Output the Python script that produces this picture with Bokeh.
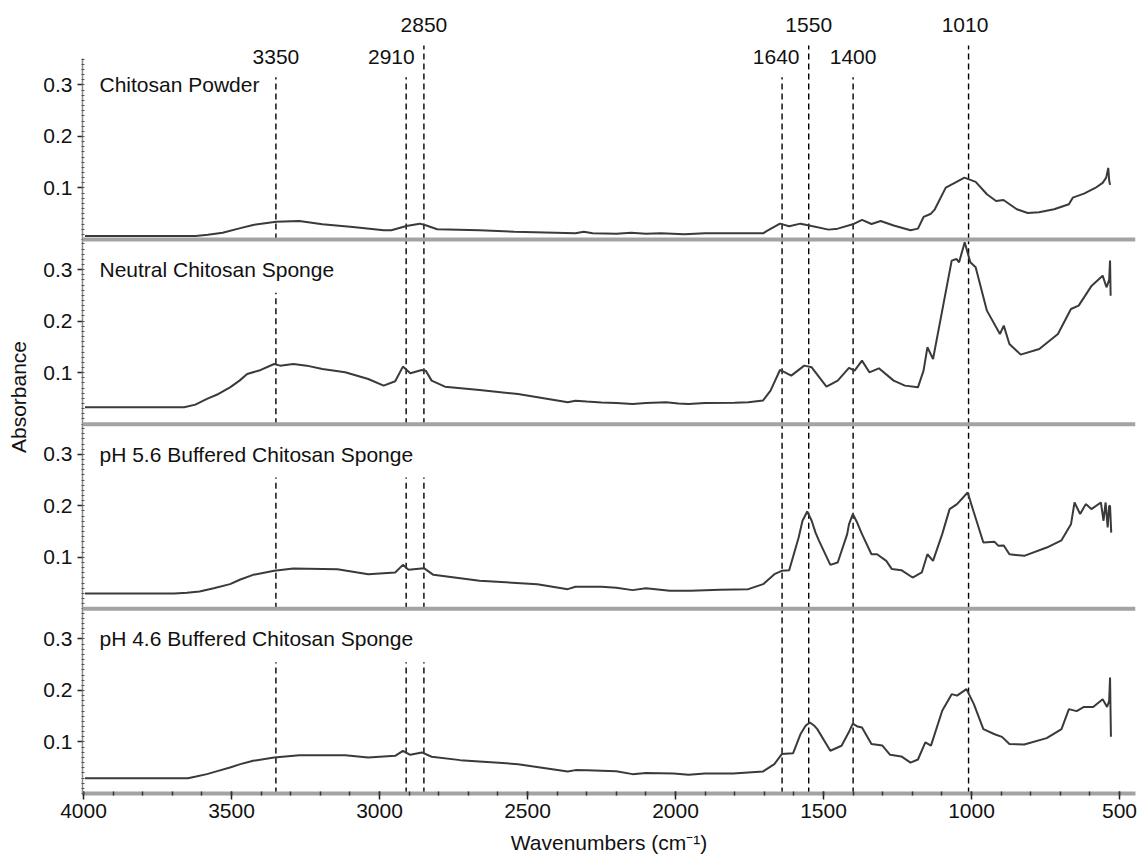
from bokeh.plotting import figure
from bokeh.models import Range1d, FixedTicker, CustomJSTickFormatter, Span
from bokeh.embed import file_html
from bokeh.resources import INLINE
from bokeh.core.properties import value

# ---------------- data ----------------
# Chitosan Powder
wn_powder = [3995, 3621, 3580, 3530, 3470, 3427, 3349, 3271, 3193, 3090, 2986, 2960, 2909, 2864, 2844,
             2805, 2662, 2545, 2338, 2310, 2280, 2200, 2150, 2100, 2050, 1970, 1900, 1800, 1704,
             1691, 1647, 1616, 1578, 1540, 1483, 1452, 1401, 1370, 1338, 1307, 1263, 1206, 1181,
             1162, 1137, 1124, 1087, 1055, 1024, 986, 948, 917, 892, 847, 810, 772, 721, 671, 658,
             620, 582, 557, 545, 538, 535, 532]
abs_powder = [0.0068, 0.0068, 0.009, 0.013, 0.022, 0.0282, 0.0346, 0.0359, 0.0295, 0.0243, 0.0178, 0.0178,
              0.0262, 0.0307, 0.0275, 0.0198, 0.0178, 0.0152, 0.012, 0.015, 0.012, 0.011, 0.013,
              0.011, 0.012, 0.010, 0.012, 0.012, 0.012, 0.0165, 0.0307, 0.0255, 0.0307, 0.026,
              0.0191, 0.021, 0.0294, 0.0379, 0.030, 0.0359, 0.027, 0.0178, 0.021, 0.0437, 0.050,
              0.0586, 0.1006, 0.1103, 0.1201, 0.1117, 0.0877, 0.0748, 0.0767, 0.0586, 0.0515,
              0.0528, 0.0586, 0.0683, 0.0812, 0.089, 0.100, 0.110, 0.120, 0.139, 0.115, 0.106]

# Neutral Chitosan Sponge
wn_neutral = [3995, 3660, 3622, 3583, 3544, 3505, 3473, 3447, 3401, 3356, 3336, 3291, 3246, 3193, 3116,
              3038, 2986, 2947, 2921, 2896, 2857, 2844, 2824, 2779, 2662, 2532, 2364, 2338, 2300, 2250,
              2200, 2145, 2100, 2032, 1990, 1956, 1900, 1800, 1754, 1704, 1679, 1647, 1609, 1565, 1540,
              1490, 1452, 1414, 1395, 1370, 1345, 1313, 1263, 1225, 1181, 1162, 1149, 1130, 1099,
              1067, 1051, 1042, 1023, 1004, 986, 948, 904, 891, 872, 834, 771, 708, 664, 638, 594,
              557, 544, 535, 532, 530]
abs_neutral = [0.0327, 0.0327, 0.0379, 0.0489, 0.0586, 0.0715, 0.0845, 0.0974, 0.1052, 0.1168, 0.1136,
               0.1168, 0.1136, 0.1071, 0.1006, 0.0877, 0.0748, 0.0832, 0.1117, 0.0987, 0.1052, 0.1039,
               0.0845, 0.0728, 0.0663, 0.0586, 0.0424, 0.0456, 0.044, 0.042, 0.041, 0.0392, 0.041,
               0.0424, 0.040, 0.0392, 0.041, 0.0415, 0.0424, 0.046, 0.065, 0.1052, 0.0942, 0.1136,
               0.1104, 0.0728, 0.0845, 0.1091, 0.1039, 0.1233, 0.1006, 0.1084, 0.0845, 0.0748, 0.0715,
               0.1039, 0.1492, 0.1265, 0.2204, 0.3175, 0.3207, 0.3142, 0.3531, 0.3142, 0.3045,
               0.2204, 0.1751, 0.1913, 0.1557, 0.135, 0.146, 0.1751, 0.2236, 0.2301, 0.2689,
               0.2883, 0.2657, 0.28, 0.3175, 0.2495]

# pH 5.6 Buffered Chitosan Sponge
wn_ph56 = [3995, 3693, 3650, 3608, 3560, 3505, 3470, 3427, 3356, 3291, 3142, 3038, 2947, 2921, 2902,
           2850, 2818, 2662, 2467, 2364, 2338, 2300, 2250, 2200, 2145, 2100, 2019, 1950, 1850, 1754,
           1704, 1666, 1641, 1616, 1584, 1571, 1555, 1540, 1527, 1515, 1477, 1452, 1420, 1414, 1401,
           1386, 1370, 1338, 1319, 1288, 1269, 1237, 1199, 1168, 1149, 1130, 1099, 1074, 1049, 1013,
           992, 960, 922, 909, 891, 872, 822, 746, 696, 664, 652, 633, 614, 595, 563, 554, 547, 540,
           535, 532, 528]
abs_ph56 = [0.0298, 0.0298, 0.031, 0.0337, 0.040, 0.0479, 0.057, 0.066, 0.0738, 0.0783, 0.077, 0.0673,
            0.0706, 0.0854, 0.0757, 0.079, 0.066, 0.0544, 0.0479, 0.0382, 0.0427, 0.043, 0.0427,
            0.041, 0.0363, 0.040, 0.035, 0.035, 0.037, 0.0382, 0.0479, 0.0673, 0.0738, 0.075,
            0.1385, 0.171, 0.189, 0.171, 0.148, 0.132, 0.0854, 0.090, 0.145, 0.164, 0.184, 0.167,
            0.145, 0.106, 0.106, 0.0932, 0.0771, 0.075, 0.0608, 0.0706, 0.106, 0.0932, 0.145,
            0.1936, 0.2033, 0.2259, 0.187, 0.1288, 0.130, 0.1223, 0.123, 0.106, 0.1029, 0.119,
            0.133, 0.164, 0.2065, 0.184, 0.2033, 0.1936, 0.2065, 0.171, 0.2065, 0.158, 0.200,
            0.1995, 0.148]

# pH 4.6 Buffered Chitosan Sponge
wn_ph46 = [3995, 3647, 3620, 3583, 3545, 3505, 3470, 3427, 3356, 3271, 3116, 3038, 2947, 2921, 2896,
           2857, 2824, 2727, 2532, 2364, 2338, 2300, 2250, 2200, 2145, 2100, 2006, 1956, 1900, 1805,
           1704, 1666, 1641, 1603, 1578, 1560, 1546, 1530, 1521, 1477, 1439, 1412, 1401, 1385, 1370,
           1338, 1301, 1275, 1237, 1206, 1181, 1156, 1137, 1099, 1067, 1049, 1017, 992, 960, 922,
           897, 872, 822, 746, 696, 671, 645, 620, 589, 557, 542, 535, 532, 529]
abs_ph46 = [0.0298, 0.0298, 0.033, 0.0376, 0.044, 0.0506, 0.057, 0.0635, 0.070, 0.0745, 0.0745, 0.070,
            0.0732, 0.0829, 0.0751, 0.0797, 0.0713, 0.0648, 0.057, 0.0428, 0.0454, 0.045, 0.044,
            0.043, 0.0376, 0.040, 0.0389, 0.0363, 0.039, 0.0389, 0.0428, 0.0571, 0.0765, 0.078,
            0.115, 0.132, 0.1378, 0.131, 0.125, 0.083, 0.0927, 0.122, 0.1358, 0.130, 0.128, 0.096,
            0.093, 0.0751, 0.072, 0.060, 0.066, 0.0991, 0.093, 0.1606, 0.1929, 0.190, 0.2026,
            0.1735, 0.1249, 0.115, 0.110, 0.096, 0.095, 0.1075, 0.1249, 0.1638, 0.160, 0.168,
            0.168, 0.183, 0.168, 0.180, 0.225, 0.110]

# panels listed bottom to top
panel_names = ["pH 4.6 Buffered Chitosan Sponge", "pH 5.6 Buffered Chitosan Sponge",
               "Neutral Chitosan Sponge", "Chitosan Powder"]
panel_wn = [wn_ph46, wn_ph56, wn_neutral, wn_powder]
panel_abs = [abs_ph46, abs_ph56, abs_neutral, abs_powder]

peaks = [3350, 2910, 2850, 1640, 1550, 1400, 1010]
peak_labels = ["3350", "2910", "2850", "1640", "1550", "1400", "1010"]
peak_row = [1, 1, 0, 1, 0, 1, 0]          # 0 = upper row of labels, 1 = lower row

y_tick_values = [0.1, 0.2, 0.3]
x_tick_values = [4000, 3500, 3000, 2500, 2000, 1500, 1000, 500]

# ---------------- layout / style ----------------
OFF = 0.3586                       # vertical offset between stacked panels
FONT = "Liberation Sans"
FS = "21px"
LINE_C = "#3a3a3a"

p = figure(width=1139, height=867, output_backend="svg", toolbar_location=None,
           x_range=Range1d(4003.4, 446), y_range=Range1d(0, 1.5398),
           min_border_left=82, min_border_right=4, min_border_top=0, min_border_bottom=74,
           background_fill_color="white", border_fill_color="white")
p.outline_line_color = None
p.grid.visible = False

# x axis
xa = p.xaxis[0]
xa.ticker = FixedTicker(ticks=x_tick_values, minor_ticks=list(range(500, 4001, 100)))
xa.axis_line_color = "#a3a3a3"
xa.axis_line_width = 4
xa.major_tick_line_color = "#222222"
xa.major_tick_line_width = 1.5
xa.major_tick_out = 6
xa.major_tick_in = 2
xa.minor_tick_line_color = "#333333"
xa.minor_tick_line_width = 1.5
xa.minor_tick_out = 2
xa.minor_tick_in = 2
xa.major_label_standoff = 4
xa.axis_label = "Wavenumbers (cm\u207b\u00b9)"
xa.axis_label_standoff = 10

# y axis (stacked panels)
ya = p.yaxis[0]
major = [k * OFF + t for k in range(4) for t in y_tick_values]
minor = [k * OFF + 0.01 * i for k in range(4) for i in range(0, 36)]
ya.ticker = FixedTicker(ticks=major, minor_ticks=minor)
ya.formatter = CustomJSTickFormatter(args=dict(off=OFF), code="""
    const k = Math.round((tick - 0.2) / off);
    return (tick - k * off).toFixed(1);
""")
ya.bounds = (0, 4 * OFF - 0.008)
ya.axis_line_color = "#8a8a8a"
ya.axis_line_width = 1.5
ya.major_tick_line_color = "#222222"
ya.major_tick_line_width = 1.5
ya.major_tick_out = 5
ya.major_tick_in = 0
ya.minor_tick_line_color = "#555555"
ya.minor_tick_line_width = 1
ya.minor_tick_out = 1
ya.minor_tick_in = 2
ya.major_label_standoff = 5
ya.axis_label = "Absorbance"
ya.axis_label_standoff = 10

for ax in (xa, ya):
    ax.major_label_text_font = FONT
    ax.major_label_text_font_size = FS
    ax.major_label_text_color = "#111111"
    ax.axis_label_text_font = FONT
    ax.axis_label_text_font_size = FS
    ax.axis_label_text_font_style = "normal"
    ax.axis_label_text_color = "#111111"

# panel separators
for k in range(1, 4):
    p.add_layout(Span(location=k * OFF, dimension="width", line_color="#a3a3a3", line_width=4))

# dashed marker lines, broken below the panel titles
label_right_wn = [2821, 2821, 3108, 3385]   # right end of each panel's title (bottom to top)
row_top = [1.4524, 1.391]
x0, y0, x1, y1 = [], [], [], []
for pk, row in zip(peaks, peak_row):
    for k in range(4):
        bottom = k * OFF
        if pk >= label_right_wn[k]:
            top = k * OFF + 0.255
        elif k == 3:
            top = row_top[row]
        else:
            top = (k + 1) * OFF
        x0.append(pk); x1.append(pk); y0.append(bottom); y1.append(top)
p.segment(x0=x0, y0=y0, x1=x1, y1=y1, line_color="black", line_width=1.4, line_dash="6 4")

# spectra
for k, (w, a) in enumerate(zip(panel_wn, panel_abs)):
    p.line(w, [v + k * OFF for v in a], line_color=LINE_C, line_width=2)

# panel titles
p.text(x=[3946] * 4, y=[k * OFF + 0.3 for k in range(4)], text=panel_names,
       text_font=value(FONT), text_font_size=FS, text_color="#111111",
       text_align="left", text_baseline="middle")

# peak labels
label_shift = {2910: 50, 1640: 20, 1010: 12}
row_y = [1.4913, 1.431]
p.text(x=[pk + label_shift.get(pk, 0) for pk in peaks], y=[row_y[r] for r in peak_row],
       text=peak_labels, text_font=value(FONT), text_font_size=FS, text_color="#111111",
       text_align="center", text_baseline="middle")

open("out.html", "w").write(file_html(p, INLINE))
